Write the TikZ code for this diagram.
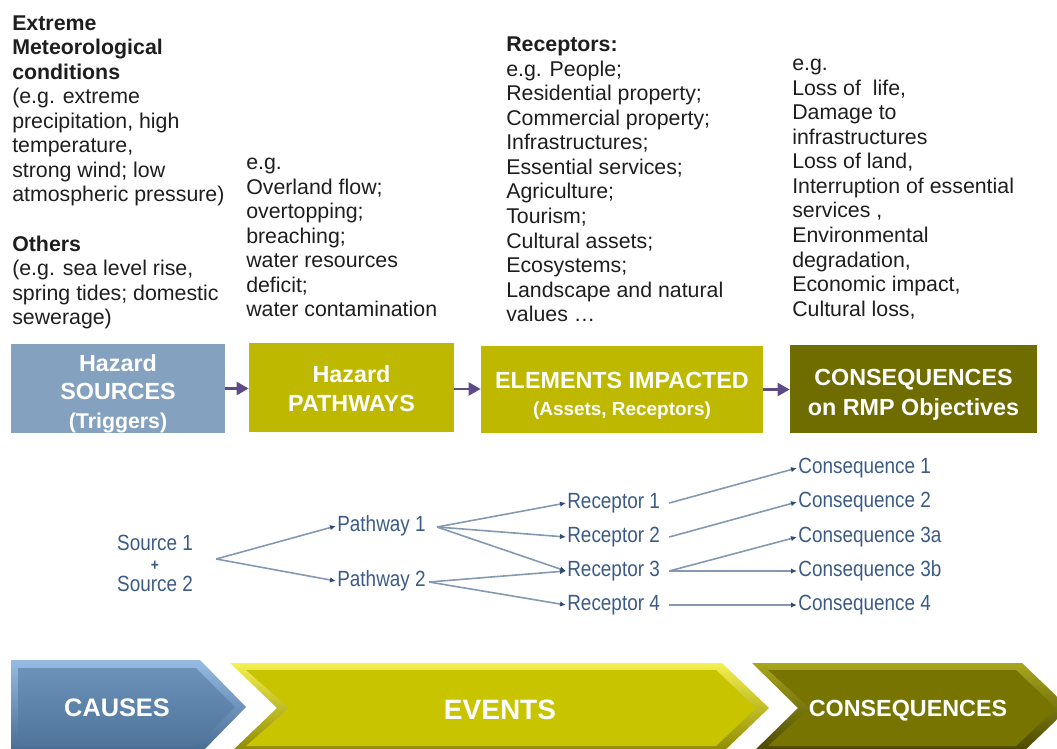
\documentclass[tikz,border=0pt]{standalone}
\usepackage{fontspec}
\setmainfont{Liberation Sans}
\newfontfamily\treefont[FakeStretch=0.86]{Liberation Sans}
\usetikzlibrary{arrows.meta,calc}
\definecolor{srcblue}{HTML}{84A2BF}
\definecolor{pathyel}{HTML}{BEB800}
\definecolor{consol}{HTML}{6F6C00}
\definecolor{arrpurp}{HTML}{5E4A87}
\definecolor{treetxt}{HTML}{3B5B86}
\definecolor{treeline}{HTML}{8499B1}
\definecolor{treetip}{HTML}{2F4C75}
\definecolor{txt}{HTML}{1E1E1E}
\definecolor{cauTop}{RGB}{150,188,228}
\definecolor{cauBot}{RGB}{70,105,145}
\definecolor{cauInTop}{RGB}{108,146,186}
\definecolor{cauInBot}{RGB}{80,116,154}
\definecolor{evTop}{RGB}{244,240,80}
\definecolor{evBot}{RGB}{140,136,0}
\definecolor{evIn}{RGB}{201,196,0}
\definecolor{coTop}{RGB}{168,166,30}
\definecolor{coBot}{RGB}{72,70,0}
\definecolor{coIn}{RGB}{119,117,0}
\begin{document}
\begin{tikzpicture}[x=0.75pt,y=-0.75pt,
  desc/.style={anchor=north west,inner sep=0pt,align=left,text=txt,font=\fontsize{16}{18.4}\selectfont},
  hbox/.style={inner sep=0pt,draw=none},
  htext/.style={inner sep=0pt,text=white,align=center,font=\bfseries\fontsize{17.5}{21.5}\selectfont},
  boxarrow/.style={draw=arrpurp,line width=2.2pt,-{Triangle[length=9pt,width=9.5pt]}},
  treenode/.style={inner sep=0.8pt,text=treetxt,font=\treefont\fontsize{16.5}{15.4}\selectfont},
  tl/.style={draw=treeline,line width=1.2pt,-{Latex[length=4.5pt,width=4pt,color=treetip]}},
  chevtext/.style={text=white,inner sep=0pt}
]
\useasboundingbox (0,0) rectangle (1057,749);

% ---------- descriptive texts ----------
\node[desc] (srcdesc) at (12,12.8) {\strut\textbf{Extreme}\\\textbf{Meteorological}\\\textbf{conditions}\\(e.g. extreme\\precipitation, high\\temperature,\\strong wind; low\\atmospheric pressure)\\[18.4pt]\textbf{Others}\\(e.g. sea level rise,\\spring tides; domestic\\sewerage)};
\node[desc] (pathdesc) at (246,152.3) {\strut e.g.\\Overland flow;\\overtopping;\\breaching;\\water resources\\deficit;\\water contamination};
\node[desc] (recdesc) at (506,34.3) {\strut\textbf{Receptors:}\\e.g. People;\\Residential property;\\Commercial property;\\Infrastructures;\\Essential services;\\Agriculture;\\Tourism;\\Cultural assets;\\Ecosystems;\\Landscape and natural\\values …};
\node[desc] (consdesc) at (792,53.3) {\strut e.g.\\Loss of\ \ life,\\Damage to\\infrastructures\\Loss of land,\\Interruption of essential\\services ,\\Environmental\\degradation,\\Economic impact,\\Cultural loss,};

% ---------- main boxes ----------
\node[hbox,fill=srcblue,minimum width=160.5pt,minimum height=66.75pt] (hsrc) at (118,388.5) {};
\node[hbox,fill=pathyel,minimum width=153.75pt,minimum height=66.75pt] (hpath) at (351.5,387.5) {};
\node[hbox,fill=pathyel,minimum width=211.5pt,minimum height=65.25pt] (helem) at (622,389.5) {};
\node[hbox,fill=consol,minimum width=185.25pt,minimum height=66pt] (hcons) at (913.5,389) {};

\node[htext] (hsrcT) at ($(hsrc.center)+(0,5)$)
  {Hazard\\SOURCES\\{\fontsize{16}{21}\selectfont(Triggers)}};
\node[htext,font=\bfseries\fontsize{17.5}{21.75}\selectfont] (hpathT) at ($(hpath.center)+(0,1.5)$)
  {Hazard\\PATHWAYS};
\node[htext] (helemT) at ($(helem.center)+(0,6)$)
  {ELEMENTS IMPACTED\\[-1pt]{\fontsize{14.2}{17}\selectfont(Assets, Receptors)}};
\node[htext,font=\bfseries\fontsize{17.5}{22.5}\selectfont] (hconsT) at ($(hcons.center)+(0,6)$)
  {CONSEQUENCES\\on RMP Objectives};

\draw[boxarrow] (hsrc.east) -- (hsrc.east -| hpath.west);
\draw[boxarrow] ($(hpath.east)+(0,1.5)$) -- ($(hpath.east -| helem.west)+(0,1.5)$);
\draw[boxarrow] (helem.east) -- (helem.east -| hcons.west);

% ---------- source-pathway-receptor tree ----------
\node[treenode,align=center] (srcs) at (155,563) {Source 1\\{\fontsize{12}{15.4}\selectfont\bfseries +}\\Source 2};
\node[treenode,anchor=west] (p1) at (336,526) {Pathway 1};
\node[treenode,anchor=west] (p2) at (336,581) {Pathway 2};
\node[treenode,anchor=west] (r1) at (566,503) {Receptor 1};
\node[treenode,anchor=west] (r2) at (566,537) {Receptor 2};
\node[treenode,anchor=west] (r3) at (566,571) {Receptor 3};
\node[treenode,anchor=west] (r4) at (566,605) {Receptor 4};
\node[treenode,anchor=west] (c1) at (797,468) {Consequence 1};
\node[treenode,anchor=west] (c2) at (797,502) {Consequence 2};
\node[treenode,anchor=west] (c3a) at (797,537) {Consequence 3a};
\node[treenode,anchor=west] (c3b) at (797,571) {Consequence 3b};
\node[treenode,anchor=west] (c4) at (797,605) {Consequence 4};

\coordinate (sfork) at ($(srcs.east)+(22,-4)$);
\coordinate (p1fork) at ($(p1.east)+(10,1)$);
\coordinate (p2fork) at ($(p2.east)+(2,1)$);
\coordinate (r1o) at ($(r1.east)+(8,0)$);
\coordinate (r2o) at ($(r2.east)+(8,0)$);
\coordinate (r3o) at ($(r3.east)+(8,0)$);
\coordinate (r4o) at ($(r4.east)+(8,0)$);

\draw[tl] (sfork) -- (p1.west);
\draw[tl] (sfork) -- (p2.west);
\draw[tl] (p1fork) -- (r1.west);
\draw[tl] (p1fork) -- (r2.west);
\draw[tl] (p1fork) -- (r3.west);
\draw[tl] (p2fork) -- (r3.west);
\draw[tl] (p2fork) -- (r4.west);
\draw[tl] (r1o) -- (c1.west);
\draw[tl] (r2o) -- (c2.west);
\draw[tl] (r3o) -- (c3a.west);
\draw[tl] (r3o) -- (c3b.west);
\draw[tl] (r4o) -- (c4.west);

% ---------- bottom chevrons ----------
\begin{scope}
\clip (0,0) rectangle (1057,749);
\shade[top color=cauTop,bottom color=cauBot]
  (11,660) -- (200,660) -- (246,707) -- (200,754) -- (11,754) -- cycle;
\shade[top color=cauInTop,bottom color=cauInBot]
  (18,668) -- (196,668) -- (235,707) -- (196,746) -- (18,746) -- cycle;
\shade[top color=evTop,bottom color=evBot]
  (230,663) -- (722,663) -- (769,708) -- (722,753) -- (230,753) -- (277,708) -- cycle;
\fill[evIn]
  (246,670) -- (716,670) -- (756,708) -- (716,746) -- (246,746) -- (289,708) -- cycle;
\shade[top color=coTop,bottom color=coBot]
  (752,663) -- (1022,663) -- (1069,708) -- (1022,753) -- (752,753) -- (798,708) -- cycle;
\fill[coIn]
  (768,670) -- (1016,670) -- (1056,708) -- (1016,746) -- (768,746) -- (810,708) -- cycle;
\end{scope}

\node[chevtext,font=\bfseries\fontsize{19}{22}\selectfont] (causes) at (117,708) {CAUSES};
\node[chevtext,font=\bfseries\fontsize{21}{24}\selectfont] (events) at (500,710) {EVENTS};
\node[chevtext,font=\bfseries\fontsize{17.5}{21}\selectfont] (consq) at (908,711) {CONSEQUENCES};
\end{tikzpicture}
\end{document}
